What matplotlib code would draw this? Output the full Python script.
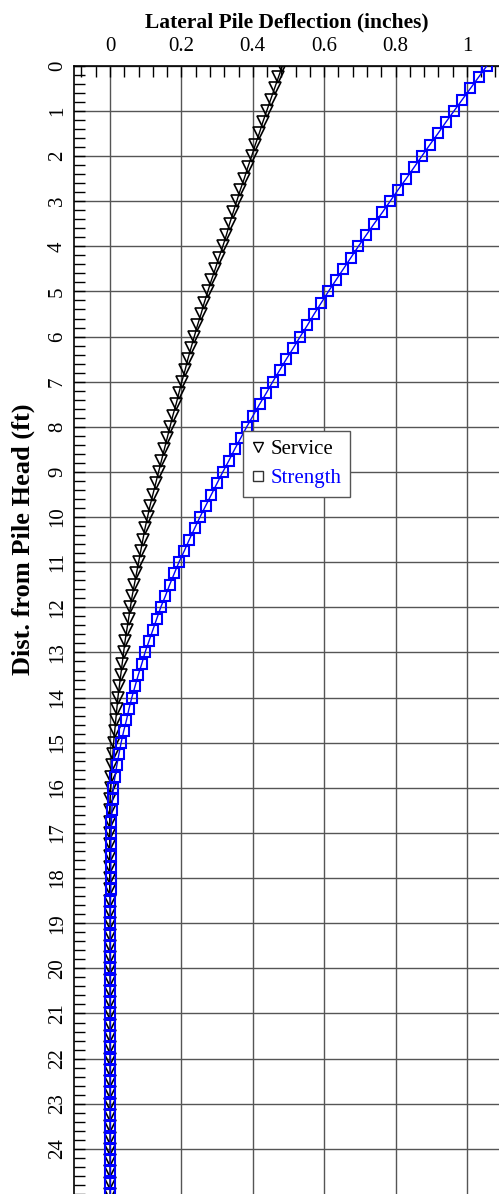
import matplotlib
matplotlib.use("Agg")
import matplotlib.pyplot as plt
from matplotlib.lines import Line2D
from matplotlib.ticker import MultipleLocator

depth = [i * 0.25 for i in range(101)]

service = [
    0.483, 0.472, 0.461, 0.450, 0.439, 0.428, 0.418, 0.407, 0.397, 0.386,
    0.376, 0.365, 0.355, 0.345, 0.335, 0.326, 0.316, 0.305, 0.295, 0.284,
    0.274, 0.264, 0.255, 0.245, 0.236, 0.227, 0.218, 0.210, 0.201, 0.193,
    0.185, 0.176, 0.168, 0.160, 0.152, 0.144, 0.136, 0.128, 0.120, 0.112,
    0.105, 0.098, 0.092, 0.086, 0.080, 0.074, 0.068, 0.062, 0.057, 0.052,
    0.047, 0.042, 0.038, 0.034, 0.030, 0.026, 0.022, 0.019, 0.016, 0.013,
    0.010, 0.008, 0.006, 0.004, 0.002, 0.000, -0.001, -0.001, -0.001, -0.001,
    -0.001, -0.001, -0.001, -0.001, 0.000, 0.000, 0.000, 0.000, 0.000, 0.000,
    0.000, 0.000, 0.000, 0.000, 0.000, 0.000, 0.000, 0.000, 0.000, 0.000,
    0.000, 0.000, 0.000, 0.000, 0.000, 0.000, 0.000, 0.000, 0.000, 0.000,
    0.000,
]

strength = [
    1.056, 1.033, 1.010, 0.987, 0.964, 0.941, 0.919, 0.896, 0.874, 0.852,
    0.830, 0.807, 0.785, 0.763, 0.740, 0.718, 0.696, 0.675, 0.654, 0.633,
    0.612, 0.592, 0.572, 0.553, 0.533, 0.514, 0.494, 0.475, 0.456, 0.438,
    0.419, 0.401, 0.383, 0.366, 0.349, 0.333, 0.316, 0.300, 0.284, 0.268,
    0.252, 0.237, 0.222, 0.208, 0.193, 0.180, 0.167, 0.155, 0.142, 0.131,
    0.120, 0.109, 0.098, 0.089, 0.079, 0.070, 0.061, 0.053, 0.046, 0.038,
    0.031, 0.025, 0.019, 0.014, 0.009, 0.007, 0.005, 0.004, 0.003, 0.002,
    0.002, 0.002, 0.002, 0.002, 0.001, 0.001, 0.001, 0.001, 0.001, 0.001,
    0.001, 0.001, 0.001, 0.001, 0.001, 0.001, 0.001, 0.001, 0.001, 0.001,
    0.001, 0.001, 0.001, 0.001, 0.001, 0.001, 0.001, 0.001, 0.001, 0.001,
    0.001,
]

x_ticks = [0, 0.2, 0.4, 0.6, 0.8, 1]
x_tick_labels = ["0", "0.2", "0.4", "0.6", "0.8", "1"]
y_ticks = list(range(0, 25))
series_labels = ["Service", "Strength"]

plt.rcParams['font.family'] = ['Liberation Serif', 'DejaVu Serif']

fig = plt.figure(figsize=(4.99, 11.94), dpi=100)
ax = fig.add_axes([74 / 499, 0.0, 1 - 74 / 499, 1 - 65.8 / 1194])

ax.plot(service, depth, color='black', lw=1.0, marker='v', markersize=9,
        markerfacecolor='none', markeredgecolor='black', markeredgewidth=1.2,
        zorder=3)
ax.plot(strength, depth, color='#0000ff', lw=1.0, marker='s', markersize=7.2,
        markerfacecolor='none', markeredgecolor='#0000ff', markeredgewidth=1.5,
        zorder=3)

ax.set_xlim(-0.101, 1.09)
ax.set_ylim(25.0, 0)

ax.xaxis.tick_top()
ax.xaxis.set_label_position('top')
ax.set_xticks(x_ticks)
ax.set_xticklabels(x_tick_labels)
ax.xaxis.set_minor_locator(MultipleLocator(0.04))
ax.set_yticks(y_ticks)
ax.set_yticklabels([str(v) for v in y_ticks], rotation=90, va='center')
ax.yaxis.set_minor_locator(MultipleLocator(0.2))

ax.tick_params(axis='both', which='major', direction='in', length=8, width=1,
               labelsize=15, color='black')
ax.tick_params(axis='both', which='minor', direction='in', length=8, width=1,
               color='black')
ax.tick_params(axis='x', which='both', top=True, bottom=False, pad=7)
ax.tick_params(axis='y', which='both', left=True, right=False, pad=5)

ax.grid(True, which='major', color='#555555', lw=1.0)
ax.set_axisbelow(True)

for s in ['right', 'bottom']:
    ax.spines[s].set_visible(False)
for s in ['top', 'left']:
    ax.spines[s].set_linewidth(1.2)

ax.set_xlabel("Lateral Pile Deflection (inches)", fontsize=15.5, fontweight='bold',
              labelpad=7)
ax.set_ylabel("Dist. from Pile Head (ft)", fontsize=19, fontweight='bold')
ax.yaxis.set_label_coords(-0.092, 0.5806)

handles = [
    Line2D([], [], ls='none', marker='v', markersize=7.5, markerfacecolor='none',
           markeredgecolor='black', markeredgewidth=1.0),
    Line2D([], [], ls='none', marker='s', markersize=6.5, markerfacecolor='none',
           markeredgecolor='#333333', markeredgewidth=1.0),
]
leg = ax.legend(handles, series_labels, loc='upper left',
                bbox_to_anchor=(0.373, 8.1), bbox_transform=ax.transData,
                borderaxespad=0, fontsize=15, frameon=True, fancybox=False,
                edgecolor='#555555', framealpha=1, handlelength=0.6,
                handletextpad=0.3, borderpad=0.4, labelspacing=0.45,
                labelcolor=['black', '#0000ff'])
leg.get_frame().set_linewidth(1.0)

fig.savefig("out.png", dpi=100)
